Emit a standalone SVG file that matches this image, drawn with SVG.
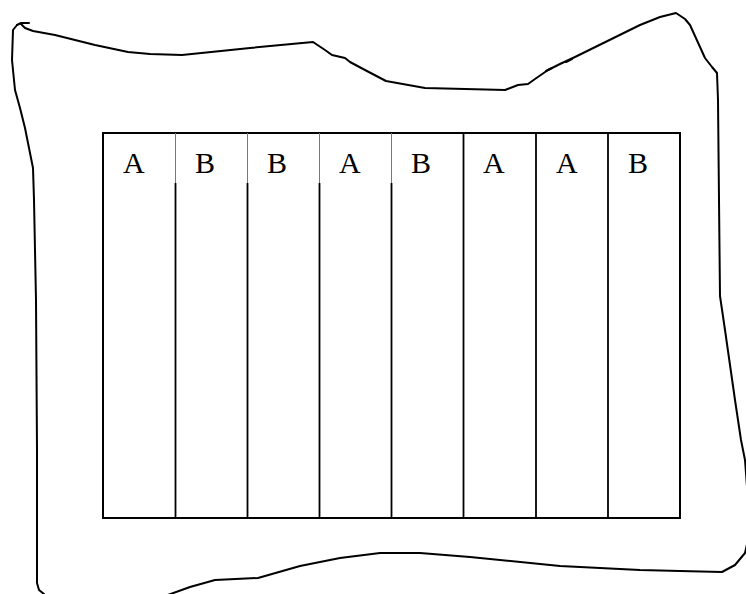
<svg xmlns="http://www.w3.org/2000/svg" width="746" height="594" viewBox="0 0 746 594">
<style>
.outline{fill:none;stroke:#000;stroke-width:2;stroke-linejoin:round;stroke-linecap:round}
.frame{fill:none;stroke:#000;stroke-width:2}
.div{stroke:#000;stroke-width:1.8}
.divtop{stroke:#777;stroke-width:1}
.lbl{font-family:"Liberation Serif","Times New Roman",serif;font-size:30px;fill:#000}
</style>
<rect width="746" height="594" fill="#fff"/>
<g id="outline">
<path class="outline" d="M29,23 L21,23 L17,25 M21,24 L25,28 L33,31 L55,35 L95,45 L128,52 L150,54 L182,55 L250,48 L313,42 L325,50 L332,55 L345,58 L350,62 L365,70 L386,81 L425,88 L505,90 L518,85 L528,84 L535,79 L548,70 L560,64 L575,57 L640,25 L660,17 L676,13 L685,19 L690,25 L705,58 L712,67 L717,73 L718,100 L719,200 L720,296 L725,330 L735,400 L741,440 L745,460 L748,500 L748,540 L745,553 L735,565 L722,572 L680,571 L640,570 L560,566 L470,557 L420,553 L380,553 L340,558 L300,566 L258,578 L215,580 L190,587 L165,596"/>
<path class="outline" d="M17,25 L13,30 L12,60 L15,90 L20,108 L25,128 L33,168 L34,200 L36,300 L37,450 L37,583 L39,590 L44,594"/>
<path class="outline" stroke-width="3.2" d="M546,71 L552,68 M566,62 L572,59"/>
</g>
<g id="frame">
<rect class="frame" x="103" y="133" width="577" height="385"/>
</g>
<g id="connectors">
<line class="divtop" x1="175.5" y1="133" x2="175.5" y2="183"/>
<line class="div" x1="175.5" y1="183" x2="175.5" y2="518"/>
<line class="divtop" x1="247.5" y1="133" x2="247.5" y2="183"/>
<line class="div" x1="247.5" y1="183" x2="247.5" y2="518"/>
<line class="divtop" x1="319.5" y1="133" x2="319.5" y2="183"/>
<line class="div" x1="319.5" y1="183" x2="319.5" y2="518"/>
<line class="divtop" x1="391.5" y1="133" x2="391.5" y2="183"/>
<line class="div" x1="391.5" y1="183" x2="391.5" y2="518"/>
<line class="div" x1="463.5" y1="133" x2="463.5" y2="518"/>
<line class="div" x1="536" y1="133" x2="536" y2="518"/>
<line class="div" x1="608" y1="133" x2="608" y2="518"/>
</g>
<g id="col1"><text class="lbl" x="123" y="173">A</text></g>
<g id="col2"><text class="lbl" x="195" y="173">B</text></g>
<g id="col3"><text class="lbl" x="267" y="173">B</text></g>
<g id="col4"><text class="lbl" x="339" y="173">A</text></g>
<g id="col5"><text class="lbl" x="411" y="173">B</text></g>
<g id="col6"><text class="lbl" x="483" y="173">A</text></g>
<g id="col7"><text class="lbl" x="556" y="173">A</text></g>
<g id="col8"><text class="lbl" x="628" y="173">B</text></g>
</svg>
